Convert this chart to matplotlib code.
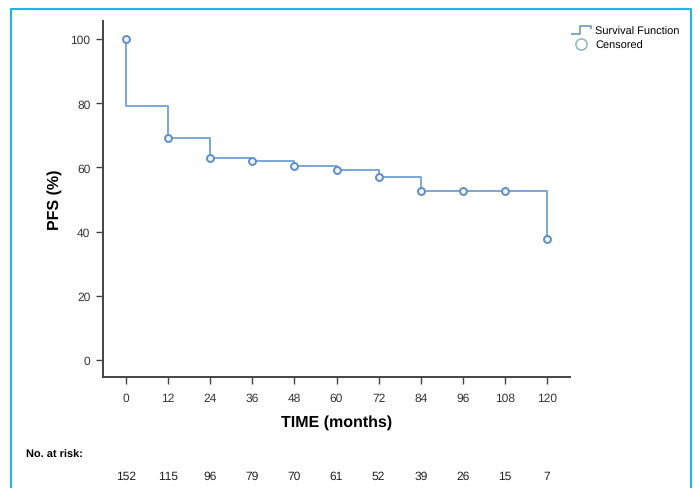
#!/usr/bin/env python3
"""
Kaplan-Meier style PFS curve with numbers at risk
"""
import matplotlib
matplotlib.use('Agg')
import matplotlib.pyplot as plt
from matplotlib.lines import Line2D
from matplotlib.path import Path

# step function (event times and survival after each step)
step_t = [0, 0, 12, 24, 36, 48, 60, 72, 84, 120]
step_s = [100, 79, 69.3, 62.8, 62.0, 60.3, 59.3, 57.0, 52.5, 37.6]

# censored marks
cens_t = [0, 12, 24, 36, 48, 60, 72, 84, 96, 108, 120]
cens_s = [100, 69.3, 62.8, 62.0, 60.3, 59.3, 57.0, 52.5, 52.5, 52.5, 37.6]

x_ticks = [0, 12, 24, 36, 48, 60, 72, 84, 96, 108, 120]
y_ticks = [0, 20, 40, 60, 80, 100]
at_risk = [152, 115, 96, 79, 70, 61, 52, 39, 26, 15, 7]

line_color = '#7ba6d6'
mark_color = '#5f8fc6'
border_color = '#22b4e6'

plt.rcParams['font.family'] = ['Liberation Sans', 'DejaVu Sans']
plt.rcParams['text.hinting'] = 'no_hinting'
plt.rcParams['text.hinting_factor'] = 1

fig = plt.figure(figsize=(6.96, 4.89), dpi=100)
ax = fig.add_axes([103 / 696, 1 - 378 / 489, (570 - 103) / 696, (378 - 22) / 489])

ax.step(step_t, step_s, where='post', color=line_color, linewidth=1.4)
ax.plot(cens_t, cens_s, linestyle='none', marker='o', markersize=5,
        markerfacecolor='#eef4fb', markeredgecolor=mark_color, markeredgewidth=1.4)

ax.set_xlim(-6.5, 126.5)
ax.set_ylim(-5.3, 105.6)
ax.set_xticks(x_ticks)
ax.set_yticks(y_ticks)
ax.tick_params(direction='out', length=5, width=1, colors='#444444',
               labelsize=8.5, labelcolor='#333333')
ax.tick_params(axis='x', pad=6)
ax.tick_params(axis='y', pad=4)
for side in ['top', 'right']:
    ax.spines[side].set_visible(False)
for side in ['left', 'bottom']:
    ax.spines[side].set_color('#444444')
    ax.spines[side].set_linewidth(1.4)

ax.set_xlabel('TIME (months)', fontsize=11.5, fontweight='bold', labelpad=8)
ax.set_ylabel('PFS (%)', fontsize=11.5, fontweight='bold', labelpad=6)

# legend with a step-shaped icon
step_icon = Path([(-1.0, -0.4), (-0.1, -0.4), (-0.1, 0.4), (1.0, 0.4), (1.0, 0.1)],
                 [Path.MOVETO, Path.LINETO, Path.LINETO, Path.LINETO, Path.LINETO])
handles = [
    Line2D([], [], linestyle='none', marker=step_icon, markersize=14,
           markerfacecolor='none', markeredgecolor='#5f8fb0', markeredgewidth=1.1),
    Line2D([], [], linestyle='none', marker='o', markersize=8,
           markerfacecolor='none', markeredgecolor='#8db4c4', markeredgewidth=1.1),
]
fig.legend(handles, ['Survival Function', 'Censored'], loc='upper left',
           bbox_to_anchor=(571 / 696, 1 - 27 / 489), frameon=False,
           fontsize=7.8, handlelength=1.9, handletextpad=0.35, labelspacing=0.3,
           borderpad=0, borderaxespad=0)

# numbers at risk
fig.text(26 / 696, 1 - 455 / 489, 'No. at risk:', fontsize=8, fontweight='bold',
         va='center', ha='left')
risk_tr = matplotlib.transforms.blended_transform_factory(ax.transData, fig.transFigure)
for t, n in zip(x_ticks, at_risk):
    ax.text(t, 1 - 477 / 489, str(n), transform=risk_tr, fontsize=8.5,
            ha='center', va='center', color='#222222', clip_on=False)

# outer frame (open at the bottom)
fig.add_artist(Line2D([11 / 696, 11 / 696, 691 / 696, 691 / 696],
                      [0, 1 - 10 / 489, 1 - 10 / 489, 0],
                      transform=fig.transFigure, color=border_color, linewidth=1.5))

fig.savefig('out.png', dpi=100)
plt.close(fig)
